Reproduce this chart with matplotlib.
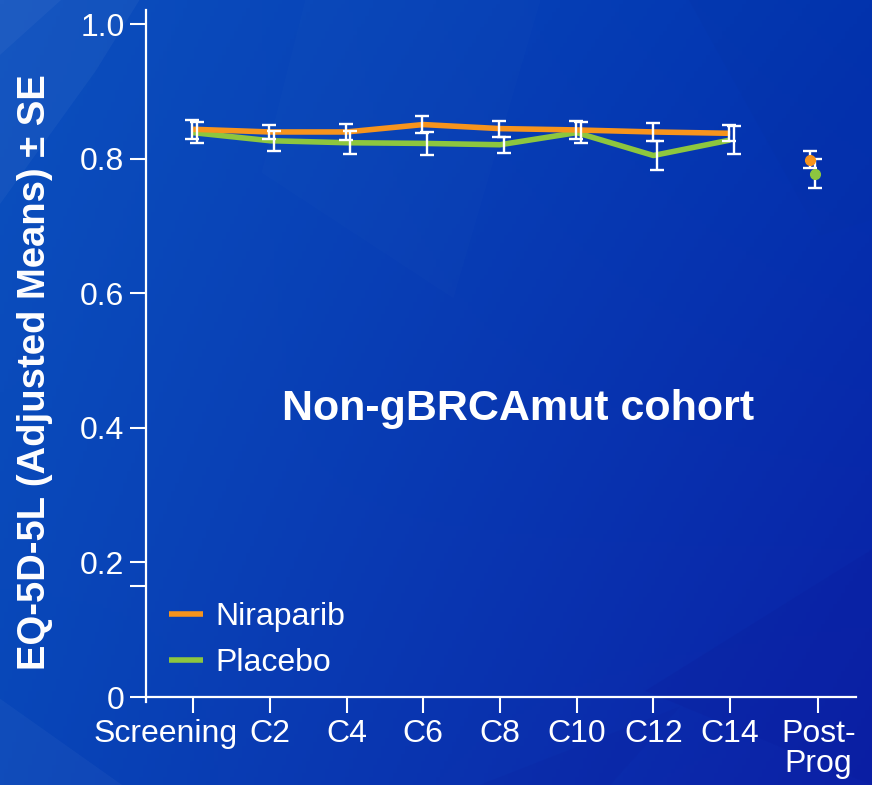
import numpy as np
import matplotlib
matplotlib.use("Agg")
import matplotlib.pyplot as plt
from matplotlib.patches import Polygon

plt.rcParams['font.family'] = ['Liberation Sans', 'DejaVu Sans']

# Visits and EQ-5D-5L adjusted means with standard errors
visits = ["Screening", "C2", "C4", "C6", "C8", "C10", "C12", "C14"]
post_label = "Post-\nProg"

nira_mean = [0.844, 0.840, 0.840, 0.851, 0.845, 0.843, 0.840, 0.838]
nira_se = [0.014, 0.011, 0.012, 0.013, 0.012, 0.013, 0.013, 0.012]
plac_mean = [0.839, 0.827, 0.824, 0.823, 0.821, 0.839, 0.805, 0.828]
plac_se = [0.016, 0.015, 0.017, 0.017, 0.012, 0.016, 0.021, 0.021]

nira_post, nira_post_se = 0.799, 0.013
plac_post, plac_post_se = 0.778, 0.022

series_names = ["Niraparib", "Placebo"]
yticks = [0, 0.2, 0.4, 0.6, 0.8, 1.0]
ytick_labels = ["0", "0.2", "0.4", "0.6", "0.8", "1.0"]
extra_ytick = [0.165]
cohort_title = "Non-gBRCAmut cohort"
ylabel = "EQ-5D-5L (Adjusted Means) \u00b1 SE"

ORANGE = "#F7941D"
GREEN = "#8DC63F"
W, H, DPI = 872, 785, 100

fig = plt.figure(figsize=(W / DPI, H / DPI), dpi=DPI)

# Slide-style blue gradient background with faint facets
bg = fig.add_axes([0, 0, 1, 1], zorder=-10)
bg.set_axis_off()
yy, xx = np.mgrid[0:1:200j, 0:1:220j]
tl = np.array([12, 80, 190]); tr = np.array([2, 52, 176])
bl = np.array([8, 70, 184]); br = np.array([12, 32, 166])
img = (tl * ((1 - xx) * (1 - yy))[..., None] + tr * (xx * (1 - yy))[..., None]
       + bl * ((1 - xx) * yy)[..., None] + br * (xx * yy)[..., None]) / 255.0
bg.imshow(img, extent=[0, 1, 0, 1], aspect='auto', origin='upper')
bg.set_xlim(0, 1); bg.set_ylim(0, 1)
facets = [
    ([(0, 1), (0.16, 1), (0.11, 0.91), (0, 0.74)], "white", 0.04),
    ([(0, 1), (0.07, 1), (0, 0.93)], "white", 0.04),
    ([(0, 0), (0.14, 0), (0, 0.11)], "white", 0.035),
    ([(0.35, 1), (0.62, 1), (0.52, 0.62), (0.30, 0.78)], "white", 0.012),
    ([(0.74, 0.12), (1, 0.30), (1, 0)], "#0a1a9a", 0.2),
    ([(0.55, 0.0), (0.78, 0.10), (0.70, 0.0)], "#0a1a9a", 0.12),
    ([(0.79, 1), (1, 1), (1, 0.72), (0.94, 0.70)], "#06309e", 0.12),
]
for pts, col, a in facets:
    bg.add_patch(Polygon(pts, closed=True, facecolor=col, edgecolor='none', alpha=a))

# Main plotting axes
left_px, right_px, top_px, bottom_px = 146, 856, 10, 702
ax = fig.add_axes([left_px / W, 1 - bottom_px / H,
                   (right_px - left_px) / W, (bottom_px - top_px) / H])
ax.patch.set_alpha(0)

x = np.arange(len(visits))
post_tick = len(visits) + 0.15
post_x = len(visits) + 0.05
dodge_n, dodge_p = -0.01, 0.05

ax.plot(x, plac_mean, color=GREEN, lw=4.0, zorder=3, label=series_names[1],
        solid_capstyle='butt')
ax.plot(x, nira_mean, color=ORANGE, lw=4.0, zorder=3.1, label=series_names[0],
        solid_capstyle='butt')

eb_kw = dict(fmt='none', ecolor='white', elinewidth=1.7, capsize=5, capthick=1.7, zorder=4)
ax.errorbar(x + dodge_n, nira_mean, yerr=nira_se, **eb_kw)
ax.errorbar(x + dodge_p, plac_mean, yerr=plac_se, **eb_kw)
ax.errorbar([post_x + dodge_n], [nira_post], yerr=[nira_post_se], **eb_kw)
ax.errorbar([post_x + dodge_p], [plac_post], yerr=[plac_post_se], **eb_kw)
ax.plot([post_x + dodge_n], [nira_post], 'o', color=ORANGE, ms=7, zorder=5)
ax.plot([post_x + dodge_p], [plac_post], 'o', color=GREEN, ms=7, zorder=5)

# Axis limits and spines
ax.set_xlim(-0.613, 8.64)
ax.set_ylim(-0.0074, 1.0213)
for s in ["top", "right"]:
    ax.spines[s].set_visible(False)
ax.spines["bottom"].set_position(("data", 0))
for s in ["left", "bottom"]:
    ax.spines[s].set_color("white")
    ax.spines[s].set_linewidth(1.6)

ax.set_yticks(yticks)
ax.set_yticklabels(ytick_labels)
ax.set_yticks(extra_ytick, minor=True)
ax.tick_params(axis='y', which='both', colors='white', length=11.5, width=1.5,
               labelsize=23, pad=4)

ax.set_xticks(list(x) + [post_tick])
ax.set_xticklabels([""] + visits[1:] + [post_label], linespacing=1.0)
ax.tick_params(axis='x', colors='white', length=11.5, width=1.5, labelsize=23,
               pad=4, direction='out')
ax.annotate(visits[0], xy=(x[0], 0), xycoords='data', xytext=(32.4, -15.5),
            textcoords='offset points', ha='right', va='top', color='white',
            fontsize=23, annotation_clip=False)

# Legend
leg = ax.legend(handles=[ax.lines[1], ax.lines[0]], loc='center left',
                bbox_to_anchor=(169 / W, 1 - 640 / H), bbox_transform=fig.transFigure,
                frameon=False, fontsize=23, handlelength=1.05, handletextpad=0.4,
                labelspacing=0.5, borderpad=0, borderaxespad=0)
for t in leg.get_texts():
    t.set_color('white')

# Labels
fig.text(35 / W, 1 - 372 / H, ylabel, rotation=90, ha='center', va='center',
         color='white', fontsize=27.5, fontweight='bold')
fig.text(518 / W, 1 - 420 / H, cohort_title, ha='center', va='baseline',
         color='white', fontsize=31, fontweight='bold')

fig.savefig("out.png", dpi=DPI)
